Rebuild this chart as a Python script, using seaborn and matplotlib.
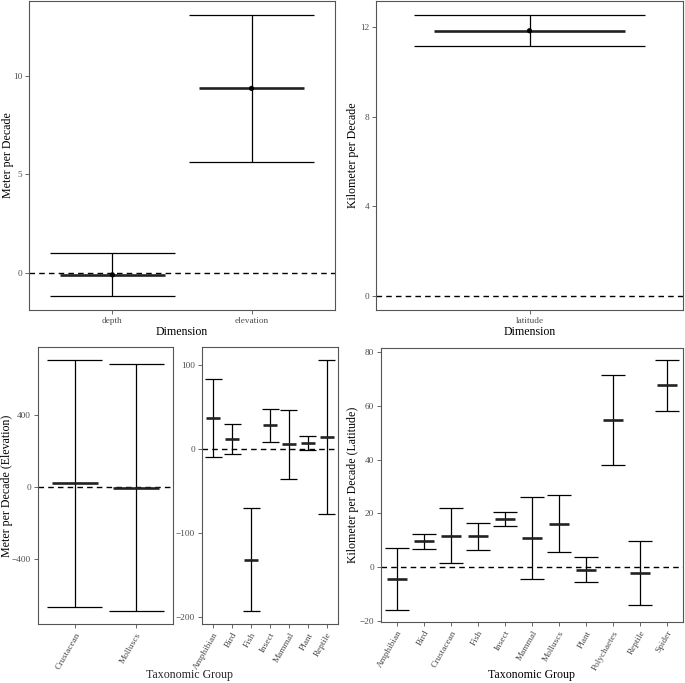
import numpy as np
import matplotlib
matplotlib.use('Agg')
import matplotlib.pyplot as plt
import seaborn as sns

# top-left: meters per decade by dimension
dim_m = ['depth', 'elevation']
dim_m_mean = [-0.10, 9.35]
dim_m_lower = [-1.17, 5.64]
dim_m_upper = [0.99, 13.07]
dim_m_ticks = [0, 5, 10]

# top-right: kilometers per decade by dimension
dim_km = ['latitude']
dim_km_mean = [11.84]
dim_km_lower = [11.14]
dim_km_upper = [12.54]
dim_km_ticks = [0, 4, 8, 12]

# bottom-left: elevation, marine groups
elev_a = ['Crustacean', 'Molluscs']
elev_a_mean = [19, -5.5]
elev_a_lower = [-669, -691]
elev_a_upper = [706, 682]
elev_a_ticks = [-400, 0, 400]

# bottom-middle: elevation, other groups
elev_b = ['Amphibian', 'Bird', 'Fish', 'Insect', 'Mammal', 'Plant', 'Reptile']
elev_b_mean = [37.2, 11.9, -131.7, 28.1, 5.6, 7.1, 14.7]
elev_b_lower = [-9.8, -5.9, -193.4, 8.3, -36.3, -1.2, -77.5]
elev_b_upper = [83.5, 29.7, -70.0, 47.4, 46.3, 15.1, 106.4]
elev_b_ticks = [-200, -100, 0, 100]

# bottom-right: latitude by group
lat = ['Amphibian', 'Bird', 'Crustacean', 'Fish', 'Insect', 'Mammal',
       'Molluscs', 'Plant', 'Polychaetes', 'Reptile', 'Spider']
lat_mean = [-4.4, 9.75, 11.7, 11.5, 18.0, 11.0, 16.2, -1.1, 54.7, -2.1, 67.7]
lat_lower = [-15.8, 6.7, 1.5, 6.4, 15.3, -4.4, 5.6, -5.7, 38.0, -14.2, 58.1]
lat_upper = [7.0, 12.5, 21.9, 16.5, 20.6, 26.3, 26.7, 3.6, 71.4, 9.9, 77.0]
lat_ticks = [-20, 0, 20, 40, 60, 80]

sns.set_theme(style='white')
plt.rcParams['font.family'] = ['Liberation Serif', 'DejaVu Serif']
plt.rcParams['axes.unicode_minus'] = True

W, H = 685, 683
fig = plt.figure(figsize=(W / 100, H / 100), dpi=100)


def make_ax(x0, x1, y0, y1):
    ax = fig.add_axes([x0 / W, 1 - y1 / H, (x1 - x0) / W, (y1 - y0) / H])
    ax._px = (x0, x1, y0, y1)
    return ax


def draw_panel(ax, cats, mean, lower, upper, yticks, ylabel, xlabel,
               rotate=False, point=False, label_x=None, label_y=None):
    pos = np.arange(len(cats))
    mean = np.asarray(mean)
    lower = np.asarray(lower)
    upper = np.asarray(upper)
    ax.axhline(0, color='black', lw=1.0, ls=(0, (4, 3)), zorder=1)
    ax.vlines(pos, lower, upper, color='black', lw=0.9, zorder=2)
    ax.hlines(upper, pos - 0.45, pos + 0.45, color='black', lw=0.9, zorder=2)
    ax.hlines(lower, pos - 0.45, pos + 0.45, color='black', lw=0.9, zorder=2)
    ax.hlines(mean, pos - 0.375, pos + 0.375, color='#222222', lw=1.9, zorder=3)
    if point:
        sns.scatterplot(x=pos, y=mean, ax=ax, color='black', s=14,
                        edgecolor='none', zorder=4)
    lo = min(0, lower.min())
    hi = max(0, upper.max())
    pad = (hi - lo) * 0.05
    ax.set_ylim(lo - pad, hi + pad)
    ax.set_xlim(-0.6, len(cats) - 0.4)
    ax.set_xticks(pos)
    if rotate:
        ax.set_xticklabels(cats, rotation=60, ha='right', rotation_mode='anchor')
    else:
        ax.set_xticklabels(cats)
    ax.set_yticks(yticks)
    ax.tick_params(axis='both', which='both', length=3, width=0.6,
                   colors='#4D4D4D', labelsize=6.7, pad=2,
                   bottom=True, left=True)
    ax.set_xlabel(xlabel, fontsize=8.6, color='black', labelpad=1)
    ax.set_ylabel(ylabel, fontsize=8.6, color='black')
    x0, x1, y0, y1 = ax._px
    if label_x is not None:
        ax.yaxis.set_label_coords((label_x - x0) / (x1 - x0), 0.5)
    if label_y is not None:
        ax.xaxis.set_label_coords(0.5, (y1 - label_y) / (y1 - y0))
    for sp in ax.spines.values():
        sp.set_color('#555555')
        sp.set_linewidth(0.8)


ax1 = make_ax(29, 335, 1, 310)
draw_panel(ax1, dim_m, dim_m_mean, dim_m_lower, dim_m_upper, dim_m_ticks,
           'Meter per Decade', 'Dimension', point=True, label_x=14)

ax2 = make_ax(376, 683, 1, 310)
draw_panel(ax2, dim_km, dim_km_mean, dim_km_lower, dim_km_upper, dim_km_ticks,
           'Kilometer per Decade', 'Dimension', point=True, label_x=359)

ax3 = make_ax(38, 173, 347, 624)
draw_panel(ax3, elev_a, elev_a_mean, elev_a_lower, elev_a_upper, elev_a_ticks,
           'Meter per Decade (Elevation)', '', rotate=True, label_x=13)

ax4 = make_ax(202, 338, 347, 624)
draw_panel(ax4, elev_b, elev_b_mean, elev_b_lower, elev_b_upper, elev_b_ticks,
           '', '', rotate=True)

ax5 = make_ax(381, 683, 348, 622)
draw_panel(ax5, lat, lat_mean, lat_lower, lat_upper, lat_ticks,
           'Kilometer per Decade (Latitude)', 'Taxonomic Group', rotate=True,
           label_x=359, label_y=669)

# shared x title for the two elevation panels
fig.text(190 / W, 1 - 675 / H, 'Taxonomic Group', fontsize=8.6,
         ha='center', va='center')

fig.savefig('out.png', dpi=100)
